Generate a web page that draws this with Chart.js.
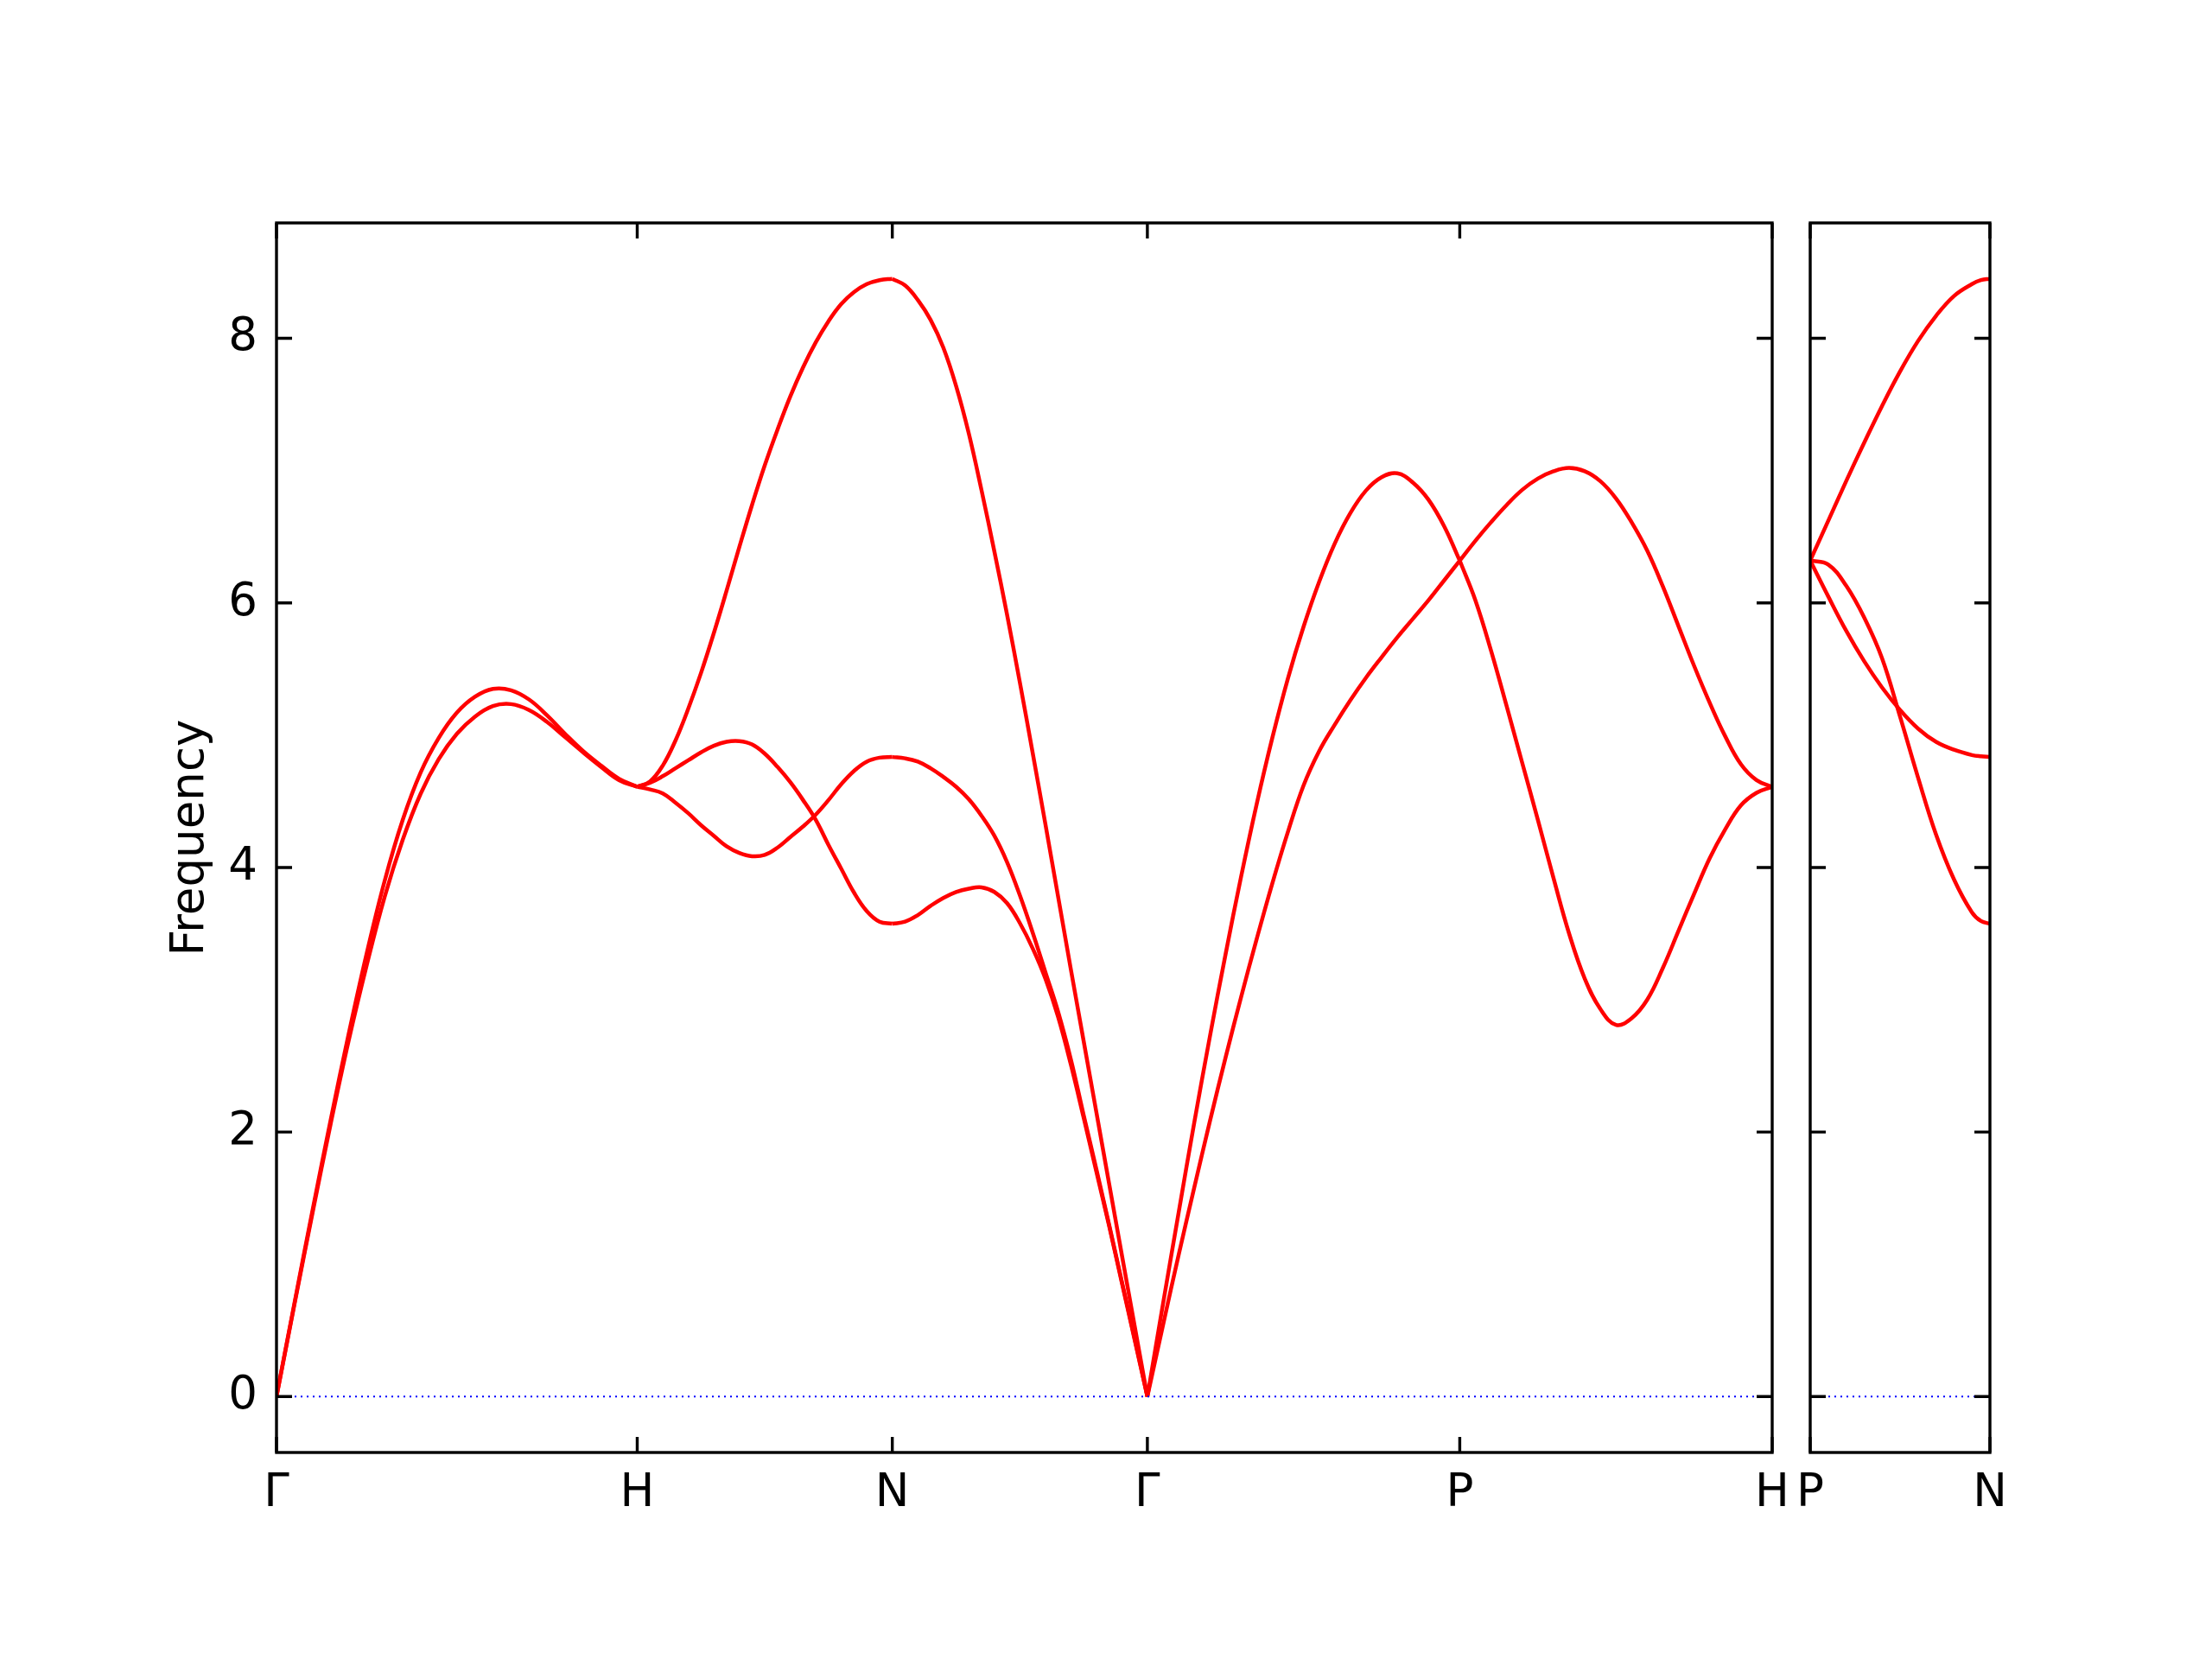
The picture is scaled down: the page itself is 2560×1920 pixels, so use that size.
<!DOCTYPE html>
<html>
<head>
<meta charset="utf-8">
<title>Phonon band structure</title>
<script src="https://cdn.jsdelivr.net/npm/chart.js@4.4.1/dist/chart.umd.min.js"></script>
<style>
  html, body { margin: 0; padding: 0; background: #fff; }
  #wrap { position: relative; width: 2560px; height: 1920px; }
  #wrap canvas { position: absolute; left: 0; top: 0; }
</style>
</head>
<body>
<div id="wrap">
  <canvas id="main" width="2560" height="1920"></canvas>
  <canvas id="side" width="2560" height="1920"></canvas>
</div>
<script>
"use strict";
const $ = (s) => document.querySelector(s);

// --- path / ticks -------------------------------------------------------------
const PATH_LABELS = ["Γ", "H", "N", "Γ", "P", "H"];
const PATH_POS = [0, 1, 1.7071, 2.4142, 3.2802, 4.1463];
const SIDE_LABELS = ["P", "N"];
const SIDE_POS = [0, 0.5];
const Y_TICKS = [0, 2, 4, 6, 8];
const Y_MIN = -0.4225, Y_MAX = 8.8725;

// fraction along each segment
const SEG_T = [0, 0.05, 0.1, 0.15, 0.2, 0.25, 0.3, 0.35, 0.4, 0.45, 0.5, 0.55, 0.6, 0.65, 0.7, 0.75, 0.8, 0.85, 0.9, 0.95, 1];
const SIDE_T = [0, 0.1, 0.2, 0.3, 0.4, 0.5, 0.6, 0.7, 0.8, 0.9, 0.95, 1];

// --- bandas (frequência) --------------------------------------------------------
// Γ -> H
const G_H_UPPER = [0, 0.71, 1.41, 2.09, 2.74, 3.35, 3.90, 4.36, 4.72, 4.98, 5.17, 5.29, 5.35, 5.34, 5.27, 5.15, 5.01, 4.88, 4.77, 4.67, 4.61];
const G_H_LOWER = [0, 0.70, 1.39, 2.06, 2.69, 3.26, 3.78, 4.21, 4.56, 4.82, 5.01, 5.14, 5.22, 5.235, 5.19, 5.10, 4.985, 4.87, 4.76, 4.66, 4.61];
// H -> N
const H_N_A = [4.61, 4.65, 4.77, 4.96, 5.20, 5.47, 5.77, 6.09, 6.42, 6.74, 7.04, 7.31, 7.56, 7.78, 7.97, 8.13, 8.26, 8.35, 8.41, 8.44, 8.45];
const H_N_B = [4.61, 4.64, 4.69, 4.75, 4.81, 4.87, 4.92, 4.95, 4.955, 4.93, 4.86, 4.76, 4.645, 4.51, 4.36, 4.17, 3.99, 3.81, 3.67, 3.59, 3.575];
const H_N_C = [4.61, 4.59, 4.56, 4.49, 4.41, 4.32, 4.24, 4.16, 4.11, 4.085, 4.095, 4.15, 4.23, 4.31, 4.40, 4.51, 4.63, 4.73, 4.80, 4.83, 4.835];
// N -> Γ
const N_G_A = [8.45, 8.40, 8.29, 8.14, 7.93, 7.64, 7.28, 6.85, 6.39, 5.91, 5.40, 4.87, 4.33, 3.78, 3.23, 2.69, 2.15, 1.61, 1.07, 0.535, 0];
const N_G_B = [4.835, 4.825, 4.80, 4.75, 4.685, 4.61, 4.515, 4.39, 4.24, 4.04, 3.79, 3.51, 3.21, 2.91, 2.55, 2.13, 1.72, 1.30, 0.87, 0.44, 0];
const N_G_C = [3.575, 3.59, 3.64, 3.71, 3.77, 3.815, 3.84, 3.85, 3.815, 3.73, 3.58, 3.39, 3.16, 2.87, 2.51, 2.11, 1.70, 1.29, 0.86, 0.43, 0];
// Γ -> P
const G_P_D = [0, 0.70, 1.39, 2.07, 2.72, 3.34, 3.93, 4.48, 4.98, 5.43, 5.82, 6.16, 6.45, 6.68, 6.85, 6.95, 6.98, 6.91, 6.78, 6.58, 6.32];
const G_P_E = [0, 0.54, 1.07, 1.58, 2.08, 2.56, 3.02, 3.46, 3.88, 4.27, 4.62, 4.88, 5.08, 5.265, 5.435, 5.59, 5.74, 5.88, 6.02, 6.17, 6.32];
// P -> H
const P_H_F = [6.32, 6.47, 6.61, 6.74, 6.855, 6.94, 6.995, 7.02, 6.995, 6.92, 6.79, 6.61, 6.395, 6.125, 5.825, 5.525, 5.245, 4.99, 4.78, 4.66, 4.61];
const P_H_G = [6.32, 6.02, 5.64, 5.22, 4.79, 4.36, 3.92, 3.50, 3.16, 2.93, 2.81, 2.86, 3.00, 3.24, 3.52, 3.80, 4.07, 4.29, 4.47, 4.565, 4.61];
// P -> N (painel da direita)
const P_N_1 = [6.32, 6.62, 6.92, 7.21, 7.49, 7.75, 7.98, 8.17, 8.32, 8.41, 8.44, 8.45];
const P_N_2 = [6.32, 6.29, 6.13, 5.89, 5.58, 5.14, 4.68, 4.25, 3.91, 3.66, 3.595, 3.575];
const P_N_3 = [6.32, 6.05, 5.79, 5.56, 5.36, 5.19, 5.05, 4.95, 4.89, 4.85, 4.84, 4.835];

const RED = "#ff0000", BLUE = "#0000ff";
const FONT = { family: "'DejaVu Sans', sans-serif", size: 53 };

// --- montagem dos datasets -----------------------------------------------------
function segment(from, to, ts, ys) {
  return ts.map((t, i) => ({ x: from + t * (to - from), y: ys[i] }));
}
function band(points) {
  return { data: points, borderColor: RED, borderWidth: 4.5, pointRadius: 0, fill: false, tension: 0.4 };
}
function zeroLine(x0, x1) {
  return { data: [{ x: x0, y: 0 }, { x: x1, y: 0 }], borderColor: BLUE, borderWidth: 2, borderDash: [2, 5], pointRadius: 0, fill: false };
}

const MAIN_SEGS = [
  [0, 1, [G_H_UPPER, G_H_LOWER]],
  [1, 2, [H_N_A, H_N_B, H_N_C]],
  [2, 3, [N_G_A, N_G_B, N_G_C]],
  [3, 4, [G_P_D, G_P_E]],
  [4, 5, [P_H_F, P_H_G]]
];
const mainSets = [zeroLine(PATH_POS[0], PATH_POS[5])];
MAIN_SEGS.forEach(([a, b, curves]) => {
  curves.forEach((c) => mainSets.push(band(segment(PATH_POS[a], PATH_POS[b], SEG_T, c))));
});
const sideSets = [zeroLine(SIDE_POS[0], SIDE_POS[1])];
[P_N_1, P_N_2, P_N_3].forEach((c) => sideSets.push(band(segment(SIDE_POS[0], SIDE_POS[1], SIDE_T, c))));

// --- moldura + ticks para dentro (estilo matplotlib) ----------------------------
const TICK_LEN = 18;
const framePlugin = {
  id: "frame",
  afterDraw(chart) {
    const { ctx, chartArea: a, scales } = chart;
    ctx.save();
    ctx.strokeStyle = "#000";
    ctx.lineWidth = 3.4;
    ctx.beginPath();
    scales.x.ticks.forEach((t) => {
      const x = scales.x.getPixelForValue(t.value);
      ctx.moveTo(x, a.bottom); ctx.lineTo(x, a.bottom - TICK_LEN);
      ctx.moveTo(x, a.top); ctx.lineTo(x, a.top + TICK_LEN);
    });
    Y_TICKS.forEach((v) => {
      const y = scales.y.getPixelForValue(v);
      ctx.moveTo(a.left, y); ctx.lineTo(a.left + TICK_LEN, y);
      ctx.moveTo(a.right, y); ctx.lineTo(a.right - TICK_LEN, y);
    });
    ctx.stroke();
    ctx.strokeRect(a.left, a.top, a.right - a.left, a.bottom - a.top);
    ctx.restore();
  }
};

function xScale(max, pos, labels) {
  return {
    type: "linear", min: 0, max: max,
    grid: { display: false, drawTicks: false }, border: { display: false },
    afterBuildTicks: (s) => { s.ticks = pos.map((v) => ({ value: v })); },
    afterFit: (s) => { s.height = 239; },
    ticks: { autoSkip: false, maxRotation: 0, padding: 16, color: "#000", font: FONT, callback: (v, i) => labels[i] }
  };
}

const common = {
  responsive: false, animation: false, devicePixelRatio: 1,
  plugins: { legend: { display: false }, tooltip: { enabled: false } }
};

new Chart($("#main"), {
  type: "line",
  data: { datasets: mainSets },
  options: Object.assign({}, common, {
    layout: { padding: { left: 0, top: 258, right: 509, bottom: 0 } },
    scales: {
      x: xScale(PATH_POS[5], PATH_POS, PATH_LABELS),
      y: {
        min: Y_MIN, max: Y_MAX,
        grid: { display: false, drawTicks: false }, border: { display: false },
        afterBuildTicks: (s) => { s.ticks = Y_TICKS.map((v) => ({ value: v })); },
        afterFit: (s) => { s.width = 320; },
        ticks: { padding: 22, color: "#000", font: FONT },
        title: { display: true, text: "Frequency", color: "#000", font: FONT, padding: { top: 189, bottom: 0 } }
      }
    }
  }),
  plugins: [framePlugin]
});

new Chart($("#side"), {
  type: "line",
  data: { datasets: sideSets },
  options: Object.assign({}, common, {
    layout: { padding: { left: 2095, top: 258, right: 257, bottom: 0 } },
    scales: {
      x: xScale(SIDE_POS[1], SIDE_POS, SIDE_LABELS),
      y: { display: false, min: Y_MIN, max: Y_MAX }
    }
  }),
  plugins: [framePlugin]
});
</script>
</body>
</html>
